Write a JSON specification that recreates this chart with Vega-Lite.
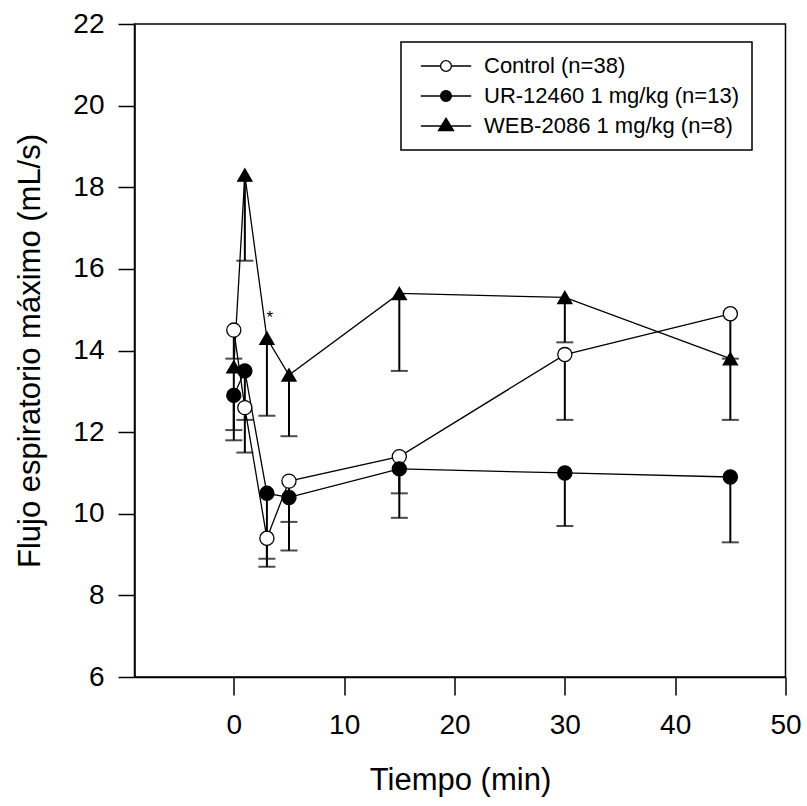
{
  "$schema": "https://vega.github.io/schema/vega-lite/v6.json",
  "width": 651,
  "height": 653,
  "autosize": {"type": "none"},
  "padding": {"left": 134.5, "top": 24, "right": 21.5, "bottom": 129},
  "background": "white",
  "config": {
    "view": {"stroke": "black", "strokeWidth": 1.5},
    "font": "Liberation Sans",
    "axis": {
      "grid": false,
      "domainColor": "black",
      "tickColor": "black",
      "labelColor": "black",
      "titleColor": "black",
      "domainWidth": 1.5,
      "tickWidth": 1.5,
      "labelFont": "Liberation Sans",
      "titleFont": "Liberation Sans",
      "titleFontWeight": "normal"
    }
  },
  "datasets": {
    "main": [
      {"t": 0, "series": "Control (n=38)", "y": 14.5, "lo": 13.8},
      {"t": 1, "series": "Control (n=38)", "y": 12.6, "lo": 11.5},
      {"t": 3, "series": "Control (n=38)", "y": 9.4, "lo": 8.9},
      {"t": 5, "series": "Control (n=38)", "y": 10.8, "lo": 9.8},
      {"t": 15, "series": "Control (n=38)", "y": 11.4, "lo": 10.5},
      {"t": 30, "series": "Control (n=38)", "y": 13.9, "lo": 12.3},
      {"t": 45, "series": "Control (n=38)", "y": 14.9, "lo": 13.8},
      {"t": 0, "series": "UR-12460 1 mg/kg (n=13)", "y": 12.9, "lo": 12.05},
      {"t": 1, "series": "UR-12460 1 mg/kg (n=13)", "y": 13.5, "lo": 12.3},
      {"t": 3, "series": "UR-12460 1 mg/kg (n=13)", "y": 10.5, "lo": 8.7},
      {"t": 5, "series": "UR-12460 1 mg/kg (n=13)", "y": 10.4, "lo": 9.1},
      {"t": 15, "series": "UR-12460 1 mg/kg (n=13)", "y": 11.1, "lo": 9.9},
      {"t": 30, "series": "UR-12460 1 mg/kg (n=13)", "y": 11.0, "lo": 9.7},
      {"t": 45, "series": "UR-12460 1 mg/kg (n=13)", "y": 10.9, "lo": 9.3},
      {"t": 0, "series": "WEB-2086 1 mg/kg (n=8)", "y": 13.6, "lo": 11.8},
      {"t": 1, "series": "WEB-2086 1 mg/kg (n=8)", "y": 18.3, "lo": 16.2},
      {"t": 3, "series": "WEB-2086 1 mg/kg (n=8)", "y": 14.3, "lo": 12.4},
      {"t": 5, "series": "WEB-2086 1 mg/kg (n=8)", "y": 13.4, "lo": 11.9},
      {"t": 15, "series": "WEB-2086 1 mg/kg (n=8)", "y": 15.4, "lo": 13.5},
      {"t": 30, "series": "WEB-2086 1 mg/kg (n=8)", "y": 15.3, "lo": 14.2},
      {"t": 45, "series": "WEB-2086 1 mg/kg (n=8)", "y": 13.8, "lo": 12.3}
    ],
    "ann": [
      {"t": 3, "y": 14.3, "label": "*"}
    ]
  },
  "data": {"name": "main"},
  "encoding": {
    "x": {
      "field": "t",
      "type": "quantitative",
      "scale": {"domain": [-9, 50], "nice": false, "zero": false},
      "axis": {
        "title": "Tiempo (min)",
        "values": [0, 10, 20, 30, 40, 50],
        "tickSize": 18,
        "labelPadding": 16,
        "labelFontSize": 28,
        "titleFontSize": 31,
        "titlePadding": 26,
        "labelFlush": false
      }
    },
    "y": {
      "field": "y",
      "type": "quantitative",
      "scale": {"domain": [6, 22], "nice": false, "zero": false},
      "axis": {
        "title": "Flujo espiratorio máximo (mL/s)",
        "values": [6, 8, 10, 12, 14, 16, 18, 20, 22],
        "tickSize": 16.5,
        "labelPadding": 14,
        "labelFontSize": 28,
        "titleFontSize": 31,
        "titlePadding": 26,
        "labelFlush": false
      }
    }
  },
  "layer": [
    {
      "mark": {"type": "line", "color": "black", "strokeWidth": 1.3},
      "encoding": {"detail": {"field": "series", "type": "nominal"}}
    },
    {
      "mark": {"type": "rule", "color": "black", "strokeWidth": 2},
      "encoding": {"y2": {"field": "lo"}}
    },
    {
      "mark": {"type": "tick", "orient": "horizontal", "color": "black", "thickness": 2, "size": 17},
      "encoding": {
        "y": {"field": "lo", "type": "quantitative", "title": "Flujo espiratorio máximo (mL/s)"}
      }
    },
    {
      "mark": {"type": "point", "filled": true, "stroke": "black", "strokeWidth": 1.3, "opacity": 1, "size": 200},
      "encoding": {
        "shape": {
          "field": "series", "type": "nominal",
          "scale": {"domain": ["Control (n=38)", "UR-12460 1 mg/kg (n=13)", "WEB-2086 1 mg/kg (n=8)"], "range": ["circle", "circle", "triangle-up"]},
          "legend": null
        },
        "fill": {
          "field": "series", "type": "nominal",
          "scale": {"domain": ["Control (n=38)", "UR-12460 1 mg/kg (n=13)", "WEB-2086 1 mg/kg (n=8)"], "range": ["white", "black", "black"]},
          "legend": null
        }
      }
    },
    {
      "mark": {"type": "point", "filled": true, "stroke": "black", "strokeWidth": 1.3, "opacity": 0, "size": 1},
      "encoding": {
        "shape": {
          "field": "series", "type": "nominal",
          "scale": {"domain": ["Control (n=38)", "UR-12460 1 mg/kg (n=13)", "WEB-2086 1 mg/kg (n=8)"], "range": ["M-4.2,0H-0.9M0.9,0H4.2M-0.9,0A0.9,0.9,0,1,1,0.9,0A0.9,0.9,0,1,1,-0.9,0Z", "M-4.2,0H4.2M-0.9,0A0.9,0.9,0,1,1,0.9,0A0.9,0.9,0,1,1,-0.9,0Z", "M-4.2,0H4.2M0,-1.3L1.25,0.75L-1.25,0.75Z"]},
          "legend": {
            "title": null,
            "orient": "none",
            "legendX": 266.5,
            "legendY": 18,
            "strokeColor": "black",
            "padding": 13,
            "symbolOffset": 21,
            "symbolSize": 144,
            "symbolOpacity": 1,
            "symbolStrokeColor": "black",
            "symbolStrokeWidth": 1.3,
            "labelOffset": 27,
            "labelFontSize": 22,
            "labelFont": "Liberation Sans",
            "labelColor": "black",
            "rowPadding": 8,
            "labelLimit": 400,
            "encode": {"legend": {"update": {"strokeWidth": {"value": 1.5}}}}
          }
        },
        "fill": {
          "field": "series", "type": "nominal",
          "scale": {"domain": ["Control (n=38)", "UR-12460 1 mg/kg (n=13)", "WEB-2086 1 mg/kg (n=8)"], "range": ["white", "black", "black"]},
          "legend": {
            "title": null,
            "orient": "none",
            "legendX": 266.5,
            "legendY": 18,
            "strokeColor": "black",
            "padding": 13,
            "symbolOffset": 21,
            "symbolSize": 144,
            "symbolOpacity": 1,
            "symbolStrokeColor": "black",
            "symbolStrokeWidth": 1.3,
            "labelOffset": 27,
            "labelFontSize": 22,
            "labelFont": "Liberation Sans",
            "labelColor": "black",
            "rowPadding": 8,
            "labelLimit": 400,
            "encode": {"legend": {"update": {"strokeWidth": {"value": 1.5}}}}
          }
        }
      }
    },
    {
      "data": {"name": "ann"},
      "mark": {"type": "text", "fontSize": 17, "color": "black", "dx": 3, "dy": -20, "font": "Liberation Sans"},
      "encoding": {"text": {"field": "label"}}
    }
  ],
  "resolve": {"scale": {"shape": "independent", "fill": "independent"}}
}
